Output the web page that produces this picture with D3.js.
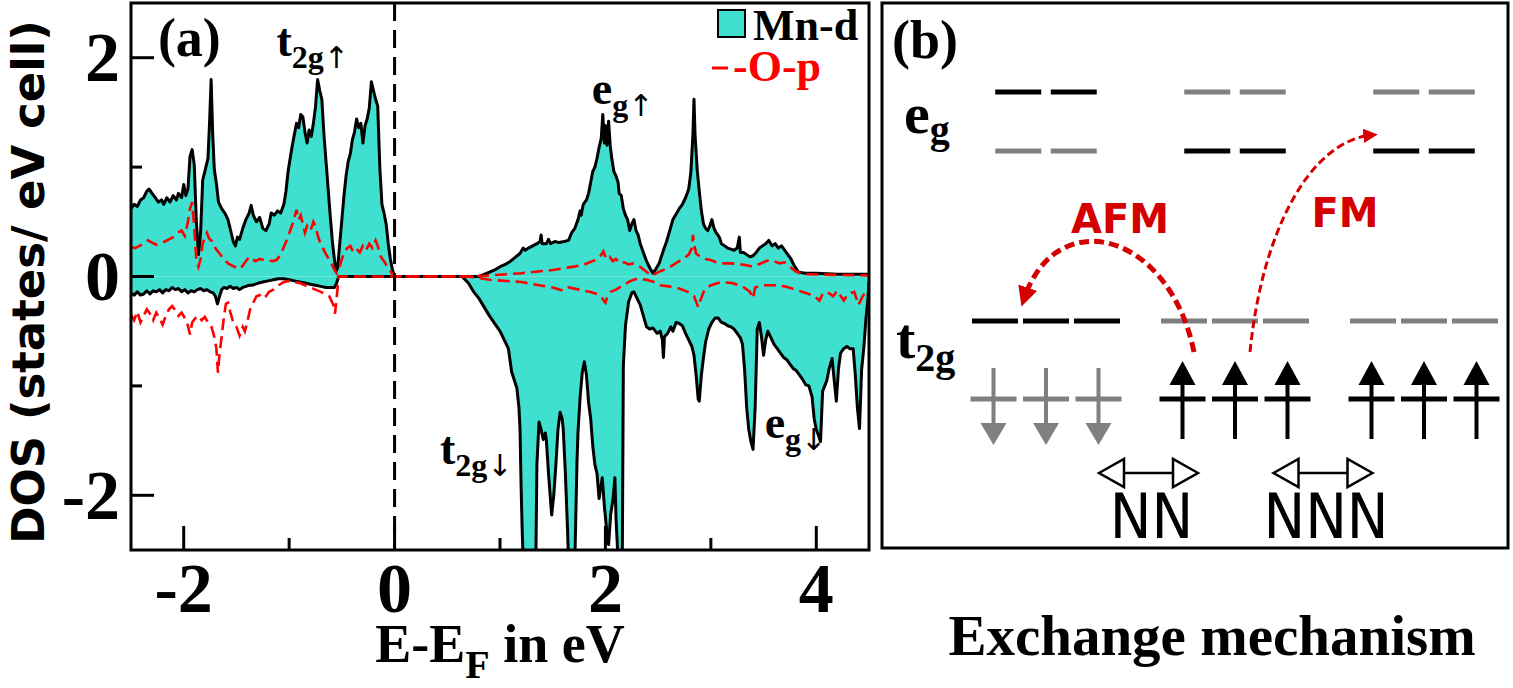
<!DOCTYPE html>
<html>
<head>
<meta charset="utf-8">
<script src="https://cdn.jsdelivr.net/npm/d3@7"></script>
<style>
    body { margin: 0; background: #fff; }
    #chart-area { width: 1513px; height: 688px; }
    .serif { font-family: "Liberation Serif", "Times New Roman", serif; font-weight: bold; }
</style>
</head>
<body>
<div id="chart-area"></div>
<script>

// ---------------- panel (a) data : [E - E_F (eV), DOS (states / eV cell)] ----------------

// Mn-d, spin up
let mnUp = [
    [-2.50,0.62],[-2.47,0.66],[-2.44,0.64],[-2.41,0.70],[-2.38,0.72],[-2.35,0.78],[-2.33,0.80],[-2.30,0.76],
    [-2.27,0.72],[-2.24,0.68],[-2.21,0.70],[-2.19,0.66],[-2.16,0.72],[-2.13,0.68],[-2.10,0.74],[-2.07,0.70],
    [-2.05,0.76],[-2.02,0.72],[-2.00,0.84],[-1.98,0.74],[-1.96,0.80],[-1.94,1.10],[-1.92,1.16],[-1.90,1.02],
    [-1.88,0.50],[-1.86,0.20],[-1.84,0.40],[-1.82,0.88],[-1.79,1.00],[-1.77,1.08],[-1.755,1.40],[-1.74,1.80],
    [-1.725,1.30],[-1.71,0.98],[-1.69,0.85],[-1.67,0.68],[-1.64,0.62],[-1.61,0.58],[-1.58,0.52],[-1.55,0.40],
    [-1.53,0.32],[-1.51,0.28],[-1.49,0.36],[-1.47,0.34],[-1.44,0.44],[-1.41,0.52],[-1.38,0.58],[-1.36,0.65],
    [-1.34,0.56],[-1.31,0.50],[-1.28,0.54],[-1.25,0.44],[-1.22,0.42],[-1.19,0.48],[-1.17,0.58],[-1.14,0.56],
    [-1.11,0.60],[-1.08,0.58],[-1.05,0.66],[-1.03,0.78],[-1.01,0.96],[-0.99,1.08],[-0.97,1.20],[-0.95,1.30],
    [-0.93,1.40],[-0.91,1.36],[-0.89,1.48],[-0.87,1.46],[-0.85,1.32],[-0.83,1.22],[-0.81,1.34],[-0.79,1.28],
    [-0.77,1.40],[-0.75,1.55],[-0.73,1.80],[-0.71,1.70],[-0.69,1.62],[-0.67,1.30],[-0.65,1.05],[-0.63,0.80],
    [-0.61,0.55],[-0.59,0.32],[-0.57,0.15],[-0.555,0.05],[-0.54,0.08],[-0.52,0.30],[-0.50,0.52],[-0.48,0.74],
    [-0.46,0.92],[-0.44,1.05],[-0.42,1.12],[-0.40,1.25],[-0.38,1.32],[-0.36,1.44],[-0.34,1.36],[-0.32,1.40],
    [-0.30,1.22],[-0.28,1.38],[-0.26,1.44],[-0.24,1.54],[-0.22,1.78],[-0.20,1.70],[-0.18,1.62],[-0.16,1.56],
    [-0.14,1.00],[-0.12,0.66],[-0.10,0.58],[-0.08,0.48],[-0.06,0.30],[-0.04,0.16],[-0.02,0.06],[0.00,0.00],
    [0.80,0.00],[0.85,0.02],[0.90,0.04],[0.95,0.06],[1.00,0.09],[1.05,0.11],[1.10,0.14],[1.15,0.18],
    [1.19,0.21],[1.22,0.26],[1.24,0.24],[1.27,0.26],[1.31,0.28],[1.35,0.30],[1.38,0.32],[1.39,0.38],
    [1.40,0.30],[1.44,0.30],[1.46,0.34],[1.48,0.30],[1.52,0.32],[1.56,0.31],[1.61,0.32],[1.65,0.33],
    [1.68,0.40],[1.71,0.44],[1.74,0.52],[1.76,0.60],[1.77,0.56],[1.79,0.66],[1.82,0.70],[1.84,0.76],
    [1.86,0.86],[1.88,0.96],[1.90,1.00],[1.92,1.08],[1.94,1.18],[1.96,1.26],[1.975,1.48],[1.99,1.22],
    [2.00,1.38],[2.015,1.20],[2.03,1.42],[2.045,1.20],[2.06,1.08],[2.08,0.96],[2.10,0.92],[2.12,0.86],
    [2.13,0.76],[2.15,0.74],[2.17,0.62],[2.19,0.56],[2.21,0.52],[2.23,0.42],[2.25,0.48],[2.27,0.52],
    [2.29,0.42],[2.31,0.38],[2.33,0.30],[2.36,0.22],[2.39,0.14],[2.42,0.08],[2.45,0.03],[2.48,0.07],
    [2.51,0.12],[2.55,0.24],[2.58,0.32],[2.61,0.42],[2.64,0.52],[2.67,0.57],[2.70,0.62],[2.73,0.66],
    [2.76,0.72],[2.79,0.80],[2.81,0.95],[2.83,1.30],[2.84,1.62],[2.85,1.30],[2.87,0.98],[2.89,0.78],
    [2.91,0.60],[2.93,0.48],[2.95,0.44],[2.97,0.42],[2.99,0.46],[3.01,0.52],[3.03,0.44],[3.05,0.40],
    [3.08,0.36],[3.10,0.30],[3.13,0.28],[3.16,0.26],[3.19,0.25],[3.22,0.24],[3.25,0.26],[3.27,0.36],
    [3.28,0.22],[3.31,0.22],[3.34,0.20],[3.37,0.18],[3.40,0.19],[3.43,0.22],[3.46,0.26],[3.49,0.28],
    [3.52,0.30],[3.55,0.33],[3.58,0.28],[3.61,0.30],[3.64,0.26],[3.67,0.28],[3.70,0.24],[3.73,0.20],
    [3.76,0.16],[3.79,0.10],[3.83,0.04],[3.90,0.03],[4.00,0.03],[4.20,0.02],[4.50,0.02]
];

// Mn-d, spin down (values below -2.5 run off the frame)
let mnDown = [
    [-2.50,-0.15],[-2.47,-0.17],[-2.44,-0.14],[-2.41,-0.17],[-2.38,-0.16],[-2.35,-0.13],[-2.32,-0.16],[-2.29,-0.13],
    [-2.26,-0.14],[-2.23,-0.12],[-2.20,-0.15],[-2.17,-0.12],[-2.14,-0.13],[-2.11,-0.10],[-2.08,-0.12],[-2.05,-0.11],
    [-2.02,-0.14],[-1.99,-0.12],[-1.96,-0.15],[-1.93,-0.13],[-1.90,-0.14],[-1.87,-0.12],[-1.84,-0.11],[-1.81,-0.13],
    [-1.78,-0.12],[-1.75,-0.14],[-1.72,-0.15],[-1.70,-0.18],[-1.68,-0.25],[-1.66,-0.18],[-1.64,-0.12],[-1.62,-0.10],
    [-1.59,-0.11],[-1.56,-0.09],[-1.53,-0.11],[-1.50,-0.10],[-1.47,-0.12],[-1.44,-0.10],[-1.41,-0.09],[-1.38,-0.08],
    [-1.35,-0.08],[-1.32,-0.07],[-1.29,-0.06],[-1.25,-0.05],[-1.20,-0.04],[-1.15,-0.03],[-1.10,-0.02],[-1.05,-0.02],
    [-1.00,-0.03],[-0.95,-0.04],[-0.90,-0.05],[-0.85,-0.06],[-0.80,-0.07],[-0.75,-0.08],[-0.70,-0.09],[-0.65,-0.10],
    [-0.60,-0.10],[-0.57,-0.10],[-0.55,-0.06],[-0.53,0.00],[0.64,0.00],[0.70,-0.06],[0.75,-0.14],[0.80,-0.20],
    [0.85,-0.28],[0.90,-0.36],[0.95,-0.43],[1.00,-0.50],[1.04,-0.58],[1.08,-0.66],[1.11,-0.87],[1.14,-0.96],
    [1.16,-1.02],[1.18,-1.20],[1.19,-1.40],[1.20,-1.91],[1.21,-2.30],[1.22,-2.60],[1.34,-2.60],[1.35,-1.72],
    [1.37,-1.33],[1.39,-1.40],[1.41,-1.49],[1.43,-1.43],[1.44,-1.50],[1.46,-1.80],[1.49,-2.18],[1.51,-2.00],
    [1.53,-1.72],[1.55,-1.40],[1.57,-1.24],[1.59,-1.30],[1.60,-1.40],[1.62,-1.80],[1.64,-2.30],[1.65,-2.60],
    [1.71,-2.60],[1.73,-1.70],[1.74,-1.42],[1.76,-1.10],[1.78,-0.88],[1.80,-0.78],[1.82,-0.90],[1.84,-1.15],
    [1.86,-1.30],[1.88,-1.55],[1.90,-1.72],[1.92,-1.80],[1.94,-2.03],[1.96,-1.90],[1.97,-1.84],[1.99,-2.10],
    [2.01,-2.30],[2.03,-2.45],[2.05,-2.17],[2.07,-2.05],[2.09,-1.84],[2.10,-2.20],[2.12,-2.60],[2.16,-2.60],
    [2.17,-0.81],[2.19,-0.45],[2.22,-0.23],[2.25,-0.15],[2.27,-0.14],[2.30,-0.20],[2.33,-0.26],[2.36,-0.36],
    [2.39,-0.46],[2.42,-0.48],[2.45,-0.47],[2.49,-0.52],[2.52,-0.50],[2.54,-0.58],[2.55,-0.74],[2.56,-0.55],
    [2.59,-0.52],[2.62,-0.46],[2.64,-0.50],[2.67,-0.42],[2.70,-0.43],[2.73,-0.45],[2.76,-0.52],[2.79,-0.58],
    [2.82,-0.64],[2.84,-0.72],[2.86,-0.90],[2.88,-1.12],[2.89,-1.14],[2.91,-0.90],[2.93,-0.74],[2.95,-0.60],
    [2.98,-0.48],[3.01,-0.42],[3.04,-0.38],[3.07,-0.38],[3.10,-0.42],[3.13,-0.43],[3.16,-0.45],[3.19,-0.46],
    [3.22,-0.48],[3.25,-0.52],[3.28,-0.56],[3.30,-0.62],[3.32,-0.85],[3.34,-1.20],[3.36,-1.40],[3.38,-1.51],
    [3.40,-1.58],[3.42,-1.20],[3.44,-0.48],[3.46,-0.42],[3.48,-0.55],[3.50,-0.72],[3.52,-0.58],[3.54,-0.50],
    [3.57,-0.56],[3.60,-0.62],[3.63,-0.66],[3.66,-0.70],[3.69,-0.74],[3.72,-0.76],[3.75,-0.80],[3.78,-0.84],
    [3.81,-0.86],[3.84,-0.90],[3.87,-0.94],[3.90,-0.99],[3.93,-1.00],[3.96,-1.10],[3.98,-1.30],[4.00,-1.40],
    [4.02,-1.45],[4.04,-1.51],[4.06,-1.05],[4.08,-1.00],[4.10,-0.95],[4.12,-0.85],[4.15,-0.75],[4.17,-0.95],
    [4.19,-1.14],[4.21,-0.85],[4.23,-0.70],[4.26,-0.66],[4.29,-0.64],[4.32,-0.66],[4.35,-0.66],[4.37,-0.90],
    [4.39,-1.20],[4.41,-1.39],[4.43,-0.85],[4.45,-0.66],[4.47,-0.40],[4.49,-0.20],[4.50,-0.05]
];

// O-p, spin up
let opUp = [
    [-2.50,0.27],[-2.46,0.26],[-2.42,0.28],[-2.38,0.30],[-2.34,0.33],[-2.30,0.31],[-2.26,0.29],[-2.22,0.30],
    [-2.18,0.32],[-2.14,0.34],[-2.10,0.36],[-2.06,0.40],[-2.02,0.42],[-1.99,0.37],[-1.96,0.50],[-1.94,0.62],
    [-1.92,0.68],[-1.90,0.45],[-1.88,0.15],[-1.86,0.09],[-1.84,0.16],[-1.82,0.30],[-1.80,0.36],[-1.78,0.40],
    [-1.76,0.35],[-1.73,0.32],[-1.70,0.26],[-1.66,0.21],[-1.62,0.16],[-1.58,0.12],[-1.54,0.10],[-1.50,0.08],
    [-1.47,0.07],[-1.44,0.10],[-1.41,0.14],[-1.38,0.18],[-1.35,0.16],[-1.32,0.14],[-1.28,0.16],[-1.24,0.15],
    [-1.20,0.15],[-1.16,0.14],[-1.12,0.15],[-1.08,0.20],[-1.05,0.27],[-1.02,0.34],[-0.99,0.42],[-0.96,0.50],
    [-0.93,0.61],[-0.91,0.52],[-0.89,0.56],[-0.87,0.48],[-0.85,0.40],[-0.83,0.46],[-0.81,0.42],[-0.79,0.44],
    [-0.77,0.50],[-0.75,0.46],[-0.73,0.38],[-0.71,0.32],[-0.69,0.28],[-0.66,0.22],[-0.63,0.17],[-0.60,0.12],
    [-0.57,0.06],[-0.55,0.03],[-0.53,0.06],[-0.50,0.16],[-0.48,0.21],[-0.45,0.26],[-0.42,0.28],[-0.39,0.22],
    [-0.36,0.25],[-0.33,0.22],[-0.30,0.28],[-0.27,0.24],[-0.24,0.30],[-0.21,0.26],[-0.18,0.33],[-0.16,0.28],
    [-0.13,0.18],[-0.10,0.14],[-0.07,0.09],[-0.04,0.05],[-0.02,0.02],[0.00,0.00],[0.70,0.00],[0.90,0.01],
    [1.20,0.03],[1.50,0.06],[1.70,0.09],[1.80,0.11],[1.90,0.15],[1.95,0.18],[1.98,0.23],[2.01,0.16],
    [2.04,0.18],[2.07,0.14],[2.10,0.16],[2.14,0.12],[2.18,0.13],[2.22,0.11],[2.26,0.12],[2.30,0.11],
    [2.34,0.08],[2.38,0.05],[2.42,0.02],[2.45,0.01],[2.50,0.04],[2.55,0.06],[2.60,0.08],[2.65,0.11],
    [2.70,0.14],[2.75,0.17],[2.79,0.20],[2.82,0.26],[2.83,0.38],[2.84,0.30],[2.86,0.21],[2.90,0.18],
    [2.95,0.16],[3.00,0.15],[3.05,0.13],[3.10,0.12],[3.15,0.12],[3.20,0.12],[3.25,0.11],[3.30,0.11],
    [3.35,0.10],[3.40,0.09],[3.45,0.11],[3.50,0.13],[3.55,0.15],[3.60,0.14],[3.65,0.12],[3.70,0.13],
    [3.75,0.09],[3.80,0.05],[3.85,0.03],[3.90,0.02],[4.50,0.01]
];

// O-p, spin down
let opDown = [
    [-2.50,-0.35],[-2.47,-0.40],[-2.44,-0.32],[-2.41,-0.42],[-2.38,-0.36],[-2.35,-0.30],[-2.32,-0.34],[-2.29,-0.40],
    [-2.26,-0.33],[-2.23,-0.38],[-2.20,-0.44],[-2.17,-0.36],[-2.14,-0.30],[-2.11,-0.27],[-2.08,-0.31],[-2.05,-0.36],
    [-2.02,-0.33],[-1.99,-0.38],[-1.96,-0.45],[-1.94,-0.53],[-1.92,-0.42],[-1.89,-0.38],[-1.86,-0.36],[-1.83,-0.40],
    [-1.80,-0.37],[-1.77,-0.42],[-1.74,-0.45],[-1.71,-0.55],[-1.69,-0.66],[-1.675,-0.88],[-1.66,-0.70],[-1.64,-0.55],
    [-1.62,-0.38],[-1.60,-0.25],[-1.58,-0.24],[-1.56,-0.32],[-1.53,-0.42],[-1.50,-0.46],[-1.47,-0.54],[-1.44,-0.46],
    [-1.42,-0.50],[-1.40,-0.43],[-1.37,-0.30],[-1.34,-0.24],[-1.31,-0.18],[-1.28,-0.17],[-1.25,-0.20],[-1.22,-0.18],
    [-1.19,-0.14],[-1.15,-0.12],[-1.10,-0.08],[-1.05,-0.05],[-1.00,-0.04],[-0.95,-0.05],[-0.90,-0.06],[-0.85,-0.08],
    [-0.80,-0.10],[-0.75,-0.12],[-0.70,-0.14],[-0.66,-0.16],[-0.62,-0.18],[-0.60,-0.22],[-0.58,-0.26],[-0.565,-0.34],
    [-0.55,-0.20],[-0.53,0.00],[0.70,0.00],[0.90,-0.03],[1.20,-0.05],[1.37,-0.08],[1.50,-0.10],[1.60,-0.13],
    [1.65,-0.10],[1.75,-0.12],[1.85,-0.14],[1.92,-0.16],[1.97,-0.20],[2.00,-0.24],[2.02,-0.18],[2.05,-0.14],
    [2.10,-0.12],[2.17,-0.08],[2.24,-0.04],[2.30,-0.02],[2.39,-0.03],[2.46,-0.05],[2.52,-0.08],[2.60,-0.09],
    [2.70,-0.11],[2.78,-0.14],[2.84,-0.18],[2.88,-0.28],[2.90,-0.22],[2.94,-0.12],[3.00,-0.08],[3.10,-0.05],
    [3.20,-0.06],[3.30,-0.09],[3.37,-0.14],[3.40,-0.20],[3.42,-0.10],[3.50,-0.08],[3.60,-0.08],[3.70,-0.09],
    [3.80,-0.12],[3.90,-0.15],[3.98,-0.18],[4.03,-0.22],[4.06,-0.16],[4.10,-0.14],[4.16,-0.18],[4.20,-0.13],
    [4.26,-0.22],[4.30,-0.16],[4.36,-0.14],[4.40,-0.26],[4.44,-0.18],[4.50,-0.10]
];

let xTickValues = [-2, -1, 0, 1, 2, 3, 4];
let xTickLabels = [-2, 0, 2, 4];
let yTickValues = [-2, -1, 0, 1, 2];
let yTickLabels = [-2, 0, 2];

// band labels: [main, subscript, spin arrow, E, DOS]
let bandLabels = [
    ["t", "2g", "\u2191", -1.12, 2.02],
    ["e", "g", "\u2191", 1.87, 1.58],
    ["t", "2g", "\u2193", 0.43, -1.71],
    ["e", "g", "\u2193", 3.51, -1.48]
];

// ---------------- panel (b) data ----------------
let sites = ["AFM site", "NN site", "NNN site"];
let egUpperColors = ["black", "gray", "gray"];
let egLowerColors = ["gray", "black", "black"];
let t2gUpperColors = ["black", "gray", "gray"];
let t2gLowerColors = ["gray", "black", "black"];
let siteSpins = ["down", "up", "up"];
let bondNames = ["NN", "NNN"];
let hopNames = ["AFM", "FM"];

let colors = { black: "#000000", gray: "#808080" };
let turquoise = "#40e0d0";


class DosVis {

    constructor(_svg) {
        this.svg = _svg;
        this.initVis();
    }

    initVis() {
        let vis = this;

        vis.margin = { top: 3, left: 131 };
        vis.width = 738;
        vis.height = 547;

        vis.g = vis.svg.append("g")
            .attr("transform", "translate(" + vis.margin.left + "," + vis.margin.top + ")");

        vis.x = d3.scaleLinear().domain([-2.5, 4.5]).range([0, vis.width]);
        vis.y = d3.scaleLinear().domain([-2.5, 2.5]).range([vis.height, 0]);

        vis.g.append("defs").append("clipPath")
            .attr("id", "clip")
            .append("rect")
            .attr("width", vis.width)
            .attr("height", vis.height);

        vis.plot = vis.g.append("g").attr("clip-path", "url(#clip)");

        vis.updateVis();
    }

    updateVis() {
        let vis = this;

        let area = d3.area()
            .x(d => vis.x(d[0]))
            .y0(vis.y(0))
            .y1(d => vis.y(d[1]));

        let line = d3.line()
            .x(d => vis.x(d[0]))
            .y(d => vis.y(d[1]));

        // Mn-d filled areas
        [mnUp, mnDown].forEach(function(series) {
            vis.plot.append("path")
                .datum(series)
                .attr("d", area)
                .attr("fill", turquoise);
        });

        [mnUp, mnDown].forEach(function(series) {
            vis.plot.append("path")
                .datum(series)
                .attr("d", line)
                .attr("fill", "none")
                .attr("stroke", "black")
                .attr("stroke-width", 3)
                .attr("stroke-linejoin", "round");
        });

        // O-p dashed
        [opUp, opDown].forEach(function(series) {
            vis.plot.append("path")
                .datum(series)
                .attr("d", line)
                .attr("fill", "none")
                .attr("stroke", "#ff0000")
                .attr("stroke-width", 2.6)
                .attr("stroke-dasharray", "12,6");
        });

        // Fermi level
        vis.g.append("line")
            .attr("x1", vis.x(0)).attr("x2", vis.x(0))
            .attr("y1", 0).attr("y2", vis.height)
            .attr("stroke", "black")
            .attr("stroke-width", 3)
            .attr("stroke-dasharray", "18,9");

        // frame
        vis.g.append("rect")
            .attr("width", vis.width)
            .attr("height", vis.height)
            .attr("fill", "none")
            .attr("stroke", "black")
            .attr("stroke-width", 3);

        // ticks (inside)
        vis.g.selectAll(".xtick")
            .data(xTickValues)
            .enter().append("line")
            .attr("class", "xtick")
            .attr("x1", d => vis.x(d)).attr("x2", d => vis.x(d))
            .attr("y1", vis.height)
            .attr("y2", d => vis.height - (xTickLabels.includes(d) ? 24 : 12))
            .attr("stroke", "black")
            .attr("stroke-width", 3);

        vis.g.selectAll(".ytick")
            .data(yTickValues)
            .enter().append("line")
            .attr("class", "ytick")
            .attr("y1", d => vis.y(d)).attr("y2", d => vis.y(d))
            .attr("x1", 0)
            .attr("x2", d => yTickLabels.includes(d) ? 23 : 11)
            .attr("stroke", "black")
            .attr("stroke-width", 3);

        vis.g.selectAll(".xlabel")
            .data(xTickLabels)
            .enter().append("text")
            .attr("class", "serif xlabel")
            .attr("x", d => vis.x(d))
            .attr("y", vis.height + 62)
            .attr("text-anchor", "middle")
            .style("font-size", "70px")
            .text(d => d);

        vis.g.selectAll(".ylabel")
            .data(yTickLabels)
            .enter().append("text")
            .attr("class", "serif ylabel")
            .attr("x", -11)
            .attr("y", d => vis.y(d) + 23.5)
            .attr("text-anchor", "end")
            .style("font-size", "70px")
            .text(d => d);

        // axis titles
        let xt = vis.g.append("text")
            .attr("class", "serif")
            .attr("x", vis.x(1))
            .attr("y", 659)
            .attr("text-anchor", "middle")
            .style("font-size", "54px");
        xt.append("tspan").text("E-E");
        xt.append("tspan").attr("dy", 16).style("font-size", "40px").text("F");
        xt.append("tspan").attr("dy", -16).text(" in eV");

        vis.svg.append("text")
            .attr("transform", "translate(44,282) rotate(-90)")
            .attr("text-anchor", "middle")
            .style("font-family", "'DejaVu Sans', sans-serif")
            .style("font-weight", "bold")
            .style("font-size", "45px")
            .text("DOS (states/ eV cell)");

        // panel tag and band labels
        vis.g.append("text")
            .attr("class", "serif")
            .attr("x", vis.x(-2.245))
            .attr("y", vis.y(2.02))
            .style("font-size", "54px")
            .text("(a)");

        bandLabels.forEach(function(d) {
            let t = vis.g.append("text")
                .attr("class", "serif")
                .attr("x", vis.x(d[3]))
                .attr("y", vis.y(d[4]))
                .style("font-size", "46px");
            t.append("tspan").text(d[0]);
            t.append("tspan").attr("dy", 12).style("font-size", "32px").text(d[1]);
            t.append("tspan")
                .style("font-family", "'DejaVu Sans', sans-serif")
                .style("font-weight", "normal")
                .style("font-size", "30px")
                .text(d[2]);
        });

        // legend
        vis.g.append("rect")
            .attr("x", 587).attr("y", 7)
            .attr("width", 27).attr("height", 27)
            .attr("fill", turquoise)
            .attr("stroke", "black")
            .attr("stroke-width", 2);
        vis.g.append("text")
            .attr("class", "serif")
            .attr("x", 622).attr("y", 37)
            .style("font-size", "44px")
            .text("Mn-d");
        vis.g.append("line")
            .attr("x1", 581).attr("x2", 597)
            .attr("y1", 65).attr("y2", 65)
            .attr("stroke", "#ff0000")
            .attr("stroke-width", 3);
        vis.g.append("text")
            .attr("class", "serif")
            .attr("x", 602).attr("y", 78)
            .attr("fill", "#ff0000")
            .style("font-size", "44px")
            .text("-O-p");
    }
}


class ExchangeVis {

    constructor(_svg) {
        this.svg = _svg;
        this.initVis();
    }

    initVis() {
        let vis = this;

        vis.red = "#d40000";
        vis.g = vis.svg.append("g");

        vis.g.append("rect")
            .attr("x", 882).attr("y", 3)
            .attr("width", 626).attr("height", 545)
            .attr("fill", "none")
            .attr("stroke", "black")
            .attr("stroke-width", 3);

        vis.col = d3.scalePoint().domain(d3.range(sites.length)).range([1046, 1424]);
        vis.level = d3.scaleOrdinal()
            .domain(["egUpper", "egLower", "t2gUpper", "t2gLower"])
            .range([92, 151, 321, 399]);

        vis.updateVis();
    }

    drawLevels(name, colorList, n, pitch) {
        let vis = this;
        let orbitals = [];
        colorList.forEach(function(c, i) {
            d3.range(n).forEach(function(k) {
                orbitals.push({ site: i, k: k, color: c });
            });
        });
        vis.g.selectAll(".orb-" + name)
            .data(orbitals)
            .enter().append("line")
            .attr("x1", d => vis.col(d.site) + (d.k - (n - 1) / 2) * pitch - 23)
            .attr("x2", d => vis.col(d.site) + (d.k - (n - 1) / 2) * pitch + 23)
            .attr("y1", vis.level(name)).attr("y2", vis.level(name))
            .attr("stroke", d => colors[d.color])
            .attr("stroke-width", 5);
        return orbitals;
    }

    updateVis() {
        let vis = this;

        vis.drawLevels("egUpper", egUpperColors, 2, 55.5);
        vis.drawLevels("egLower", egLowerColors, 2, 55.5);
        vis.drawLevels("t2gUpper", t2gUpperColors, 3, 51);
        let lower = vis.drawLevels("t2gLower", t2gLowerColors, 3, 52.5);

        // spin arrows on the lower t2g level
        let yl = vis.level("t2gLower");
        lower.forEach(function(d) {
            let cx = vis.col(d.site) + (d.k - 1) * 52.5;
            let up = siteSpins[d.site] === "up";
            let col = colors[d.color];
            let tail = up ? yl + 40 : yl - 31;
            let tip = up ? yl - 38 : yl + 46;
            let base = up ? tip + 24 : tip - 22;
            vis.g.append("line")
                .attr("x1", cx).attr("x2", cx)
                .attr("y1", tail).attr("y2", base)
                .attr("stroke", col)
                .attr("stroke-width", 4);
            vis.g.append("path")
                .attr("d", "M" + (cx - 13) + "," + base + "L" + cx + "," + tip + "L" + (cx + 13) + "," + base + "Z")
                .attr("fill", col);
        });

        // NN / NNN double arrows
        let bond = d3.scalePoint().domain(bondNames).range([1148.5, 1323]);
        let by = 473;
        bondNames.forEach(function(b) {
            let cx = bond(b);
            vis.g.append("line")
                .attr("x1", cx - 25).attr("x2", cx + 25)
                .attr("y1", by).attr("y2", by)
                .attr("stroke", "black").attr("stroke-width", 2.5);
            [-1, 1].forEach(function(s) {
                let tipX = cx + s * 49.5, baseX = cx + s * 24.5;
                vis.g.append("path")
                    .attr("d", "M" + tipX + "," + by + "L" + baseX + "," + (by - 14) + "L" + baseX + "," + (by + 14) + "Z")
                    .attr("fill", "white")
                    .attr("stroke", "black")
                    .attr("stroke-width", 2.5);
            });
            vis.g.append("text")
                .attr("x", cx + 3)
                .attr("y", 538)
                .attr("text-anchor", "middle")
                .style("font-family", "'DejaVu Sans Condensed', 'DejaVu Sans', sans-serif")
                .style("font-stretch", "condensed")
                .style("font-size", "62px")
                .text(b);
        });

        // hopping paths
        let defs = vis.g.append("defs");
        [["afmHead", 20], ["fmHead", 24]].forEach(function(m) {
            defs.append("marker")
                .attr("id", m[0])
                .attr("viewBox", "0 0 10 10")
                .attr("refX", 6).attr("refY", 5)
                .attr("markerWidth", m[1] / 5).attr("markerHeight", m[1] / 5)
                .attr("markerUnits", "strokeWidth")
                .attr("orient", "auto")
                .append("path")
                .attr("d", "M0,0L10,5L0,10Z")
                .attr("fill", vis.red);
        });

        let yT2gLow = vis.level("t2gLower"), yT2gUp = vis.level("t2gUpper"), yEgLow = vis.level("egLower");

        let afm = d3.path();
        afm.moveTo(vis.col(1) - 41, yT2gLow - 47);
        afm.bezierCurveTo(vis.col(1) - 66, yT2gUp - 90, vis.col(0) + 10, yT2gUp - 118, vis.col(0) - 22, yT2gUp - 22);
        vis.g.append("path")
            .attr("d", afm.toString())
            .attr("fill", "none")
            .attr("stroke", vis.red)
            .attr("stroke-width", 5)
            .attr("stroke-dasharray", "10,5")
            .attr("marker-end", "url(#afmHead)");

        let fm = d3.path();
        fm.moveTo(vis.col(1) + 15, yT2gLow - 47);
        fm.bezierCurveTo(vis.col(1) + 27, yT2gUp - 90, vis.col(1) + 75, yEgLow - 10, vis.col(2) - 52, yEgLow - 16);
        vis.g.append("path")
            .attr("d", fm.toString())
            .attr("fill", "none")
            .attr("stroke", vis.red)
            .attr("stroke-width", 3)
            .attr("stroke-dasharray", "8,4")
            .attr("marker-end", "url(#fmHead)");

        // hop labels
        let hopX = d3.scaleOrdinal().domain(hopNames).range([1120, 1345]);
        let hopY = d3.scaleOrdinal().domain(hopNames).range([233, 227]);
        hopNames.forEach(function(h) {
            vis.g.append("text")
                .attr("x", hopX(h)).attr("y", hopY(h))
                .attr("text-anchor", "middle")
                .attr("fill", vis.red)
                .style("font-family", "'DejaVu Sans', sans-serif")
                .style("font-weight", "bold")
                .style("font-size", "40px")
                .text(h);
        });

        // level names and panel tag
        let eg = vis.g.append("text").attr("class", "serif")
            .attr("x", 904).attr("y", 133).style("font-size", "58px");
        eg.append("tspan").text("e");
        eg.append("tspan").attr("dy", 10).style("font-size", "40px").text("g");

        let t2g = vis.g.append("text").attr("class", "serif")
            .attr("x", 896).attr("y", 358).style("font-size", "58px");
        t2g.append("tspan").text("t");
        t2g.append("tspan").attr("dy", 13).style("font-size", "40px").text("2g");

        vis.g.append("text").attr("class", "serif")
            .attr("x", 892).attr("y", 58)
            .style("font-size", "54px")
            .text("(b)");

        vis.g.append("text").attr("class", "serif")
            .attr("x", 1212).attr("y", 655)
            .attr("text-anchor", "middle")
            .style("font-size", "57px")
            .text("Exchange mechanism");
    }
}


let svg = d3.select("#chart-area").append("svg")
    .attr("width", 1513)
    .attr("height", 688);

svg.append("rect").attr("width", 1513).attr("height", 688).attr("fill", "white");

let dosVis = new DosVis(svg);
let exchangeVis = new ExchangeVis(svg);

</script>
</body>
</html>
